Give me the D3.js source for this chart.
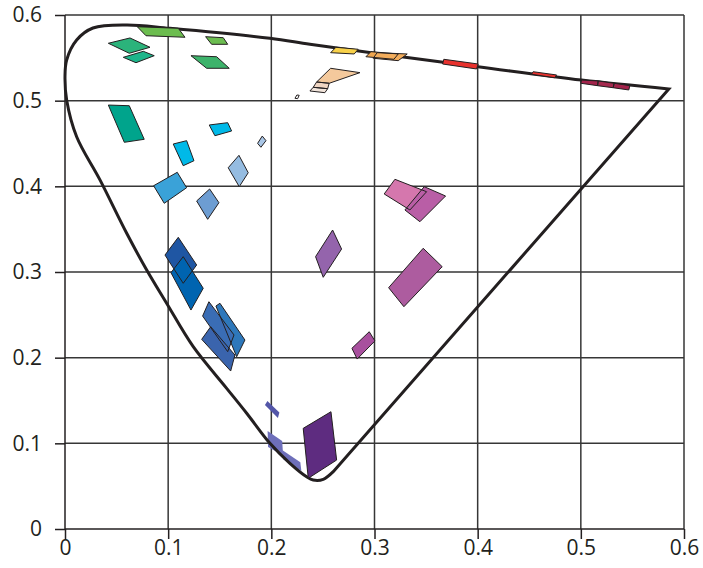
<!DOCTYPE html>
<html lang="en">
<head>
    <meta charset="UTF-8">
    <title>u'v' chromaticity</title>
    <script src="https://d3js.org/d3.v7.min.js"></script>
    <style>
        body { margin: 0; background: #fff; }
        .tick-label {
            font-family: 'Open Sans', 'DejaVu Sans', sans-serif;
            font-size: 21px;
            fill: #231f20;
        }
    </style>
</head>
<body>
    <div id="chart"></div>
    <script>
        const width = 703;
        const height = 568;

        // tick values for both axes
        const ticks = [0, 0.1, 0.2, 0.3, 0.4, 0.5, 0.6];

        // spectral locus (u', v'), closed by the purple line
        const locus = [
            [0.5853, 0.5137], [0.5007, 0.5241], [0.4002, 0.5397], [0.3004, 0.5554],
            [0.2374, 0.5658], [0.1986, 0.5728], [0.1017, 0.5844], [0.0598, 0.5883],
            [0.0271, 0.5848], [0.0113, 0.5708], [0.0016, 0.5475], [0.0000, 0.5280],
            [0.0016, 0.5008], [0.0113, 0.4579], [0.0339, 0.4075], [0.0598, 0.3452],
            [0.0792, 0.3023], [0.0985, 0.2635], [0.1243, 0.2128], [0.1567, 0.1642],
            [0.1761, 0.1351], [0.1986, 0.1000], [0.2180, 0.0767], [0.2342, 0.0610],
            [0.2406, 0.0572], [0.2503, 0.0580], [0.2600, 0.0669]
        ];

        // colour patches, four corners each in (u', v')
        const patches = [
            [[0.0701, 0.5863], [0.1098, 0.5845], [0.1163, 0.5740], [0.0785, 0.5758]],
            [[0.1363, 0.5747], [0.1534, 0.5735], [0.1577, 0.5658], [0.1421, 0.5658]],
            [[0.1221, 0.5525], [0.1470, 0.5513], [0.1592, 0.5378], [0.1373, 0.5378]],
            [[0.0420, 0.5670], [0.0630, 0.5732], [0.0824, 0.5623], [0.0623, 0.5553]],
            [[0.0565, 0.5506], [0.0759, 0.5576], [0.0865, 0.5525], [0.0688, 0.5443]],
            [[0.0420, 0.4949], [0.0623, 0.4941], [0.0768, 0.4549], [0.0575, 0.4514]],
            [[0.1398, 0.4716], [0.1577, 0.4743], [0.1615, 0.4646], [0.1453, 0.4591]],
            [[0.1049, 0.4494], [0.1179, 0.4533], [0.1250, 0.4299], [0.1146, 0.4241]],
            [[0.1867, 0.4502], [0.1912, 0.4587], [0.1948, 0.4533], [0.1899, 0.4456]],
            [[0.1582, 0.4217], [0.1686, 0.4362], [0.1776, 0.4159], [0.1689, 0.3996]],
            [[0.0859, 0.4007], [0.1088, 0.4164], [0.1179, 0.3984], [0.0962, 0.3802]],
            [[0.1276, 0.3829], [0.1402, 0.3969], [0.1492, 0.3809], [0.1383, 0.3615]],
            [[0.0969, 0.3198], [0.1098, 0.3405], [0.1276, 0.3082], [0.1146, 0.2868]],
            [[0.1027, 0.2992], [0.1146, 0.3179], [0.1340, 0.2810], [0.1221, 0.2556]],
            [[0.1463, 0.2603], [0.1502, 0.2635], [0.1744, 0.2206], [0.1664, 0.2011]],
            [[0.1334, 0.2486], [0.1395, 0.2653], [0.1638, 0.2265], [0.1577, 0.2070]],
            [[0.1325, 0.2214], [0.1412, 0.2361], [0.1647, 0.2031], [0.1606, 0.1844]],
            [[0.3094, 0.3911], [0.3198, 0.4082], [0.3505, 0.3937], [0.3343, 0.3724]],
            [[0.3295, 0.3724], [0.3482, 0.3996], [0.3689, 0.3887], [0.3440, 0.3587]],
            [[0.2429, 0.3179], [0.2594, 0.3490], [0.2681, 0.3268], [0.2503, 0.2938]],
            [[0.3137, 0.2817], [0.3472, 0.3277], [0.3656, 0.3062], [0.3285, 0.2595]],
            [[0.2781, 0.2109], [0.2949, 0.2303], [0.3004, 0.2195], [0.2832, 0.1984]],
            [[0.1938, 0.1447], [0.1962, 0.1494], [0.2078, 0.1360], [0.2064, 0.1296]],
            [[0.2309, 0.1175], [0.2578, 0.1369], [0.2633, 0.0805], [0.2358, 0.0592]],
            [[0.2626, 0.5623], [0.2842, 0.5600], [0.2803, 0.5545], [0.2575, 0.5560]],
            [[0.2917, 0.5513], [0.2965, 0.5572], [0.3230, 0.5545], [0.3188, 0.5483]],
            [[0.2987, 0.5495], [0.3026, 0.5560], [0.3317, 0.5545], [0.3230, 0.5467]],
            [[0.2575, 0.5378], [0.2859, 0.5327], [0.2561, 0.5203], [0.2439, 0.5218]],
            [[0.2439, 0.5218], [0.2561, 0.5203], [0.2546, 0.5140], [0.2406, 0.5156]],
            [[0.2406, 0.5156], [0.2546, 0.5140], [0.2519, 0.5093], [0.2374, 0.5113]],
            [[0.2229, 0.5028], [0.2248, 0.5066], [0.2270, 0.5063], [0.2255, 0.5023]],
            [[0.3672, 0.5483], [0.4005, 0.5428], [0.3989, 0.5370], [0.3660, 0.5428]],
            [[0.4538, 0.5338], [0.4765, 0.5300], [0.4748, 0.5268], [0.4522, 0.5308]],
            [[0.5007, 0.5241], [0.5168, 0.5230], [0.5162, 0.5175], [0.5000, 0.5203]],
            [[0.5168, 0.5230], [0.5323, 0.5203], [0.5313, 0.5151], [0.5162, 0.5175]],
            [[0.5323, 0.5203], [0.5475, 0.5175], [0.5465, 0.5125], [0.5313, 0.5151]]
        ];

        // patches that sit under the locus line, no outline
        const underPatches = [
            [[0.1964, 0.1143], [0.2105, 0.1027], [0.2114, 0.0860], [0.1968, 0.0957]],
            [[0.2105, 0.0922], [0.2281, 0.0778], [0.2291, 0.0677], [0.2115, 0.0815]]
        ];

        const patchColors = [
            "#6cbd4f", "#6cbd50", "#3db36b", "#2bb37b", "#1db58a", "#00a48c",
            "#00b9e8", "#00b9e8", "#a9c6e6", "#95bce1", "#3aa2d8", "#6d9dd2",
            "#1f56a3", "#0064b0", "#2e78bb", "#3a6db5", "#3a64ad",
            "#d577ad", "#b95ea6", "#9464ac", "#ad5c9f", "#a8509e",
            "#5356a8", "#5e2c80",
            "#f8d14a", "#f0a64f", "#f3ad5c", "#f4c99c", "#efd5c2", "#f1e4da", "#ffffff",
            "#e8322e", "#e8322e", "#a3234b", "#a52a4f", "#a3234b"
        ];
        const noOutline = [22];

        const svg = d3.select("#chart")
            .append("svg")
            .attr("width", width)
            .attr("height", height);

        const x = d3.scaleLinear().domain([0, 0.6]).range([65, 684]);
        const y = d3.scaleLinear().domain([0, 0.6]).range([529, 15]);

        // grid
        svg.append("g").selectAll("line")
            .data(ticks.slice(1))
            .enter()
            .append("line")
            .attr("x1", d => x(d)).attr("x2", d => x(d))
            .attr("y1", y(0)).attr("y2", y(0.6))
            .attr("stroke", "#363636").attr("stroke-width", 1.5);

        svg.append("g").selectAll("line")
            .data(ticks.slice(1))
            .enter()
            .append("line")
            .attr("x1", x(0)).attr("x2", x(0.6))
            .attr("y1", d => y(d)).attr("y2", d => y(d))
            .attr("stroke", "#363636").attr("stroke-width", 1.5);

        // axes
        const fmt = d => d === 0 ? "0" : d3.format(".1f")(d);
        const xAxis = svg.append("g")
            .attr("transform", `translate(0,${y(0)})`)
            .call(d3.axisBottom(x).tickValues(ticks).tickSize(10).tickFormat(fmt));
        const yAxis = svg.append("g")
            .attr("transform", `translate(${x(0)},0)`)
            .call(d3.axisLeft(y).tickValues(ticks).tickSize(10).tickFormat(fmt));

        [xAxis, yAxis].forEach(a => {
            a.attr("font-size", null).attr("font-family", null);
            a.select(".domain").attr("stroke", "#231f20").attr("stroke-width", 1.5);
            a.selectAll(".tick line").attr("stroke", "#231f20").attr("stroke-width", 1.5);
            a.selectAll(".tick text").attr("class", "tick-label");
        });
        xAxis.selectAll(".tick text").attr("y", 11);
        yAxis.selectAll(".tick text").attr("x", -23);
        xAxis.select(".domain").attr("d", `M${x(0)},0H${x(0.6)}`);
        yAxis.select(".domain").attr("d", `M0,${y(0)}V${y(0.6)}`);

        const quad = d3.line().x(d => x(d[0])).y(d => y(d[1]));

        svg.append("g").selectAll("path")
            .data(underPatches)
            .enter()
            .append("path")
            .attr("d", d => quad(d) + "Z")
            .attr("fill", "#6e6fba");

        // locus
        const curve = d3.line()
            .x(d => x(d[0])).y(d => y(d[1]))
            .curve(d3.curveCatmullRom.alpha(0.5));
        svg.append("path")
            .attr("d", curve(locus) + "Z")
            .attr("fill", "none")
            .attr("stroke", "#231f20")
            .attr("stroke-width", 3)
            .attr("stroke-linejoin", "miter");

        // patches: fills first, then all outlines so overlaps show both edges
        svg.append("g").selectAll("path")
            .data(patches)
            .enter()
            .append("path")
            .attr("d", d => quad(d) + "Z")
            .attr("fill", (d, i) => patchColors[i]);

        svg.append("g").selectAll("path")
            .data(patches.filter((d, i) => !noOutline.includes(i)))
            .enter()
            .append("path")
            .attr("d", d => quad(d) + "Z")
            .attr("fill", "none")
            .attr("stroke", "#231f20")
            .attr("stroke-width", 1)
            .attr("stroke-linejoin", "round");
    </script>
</body>
</html>
